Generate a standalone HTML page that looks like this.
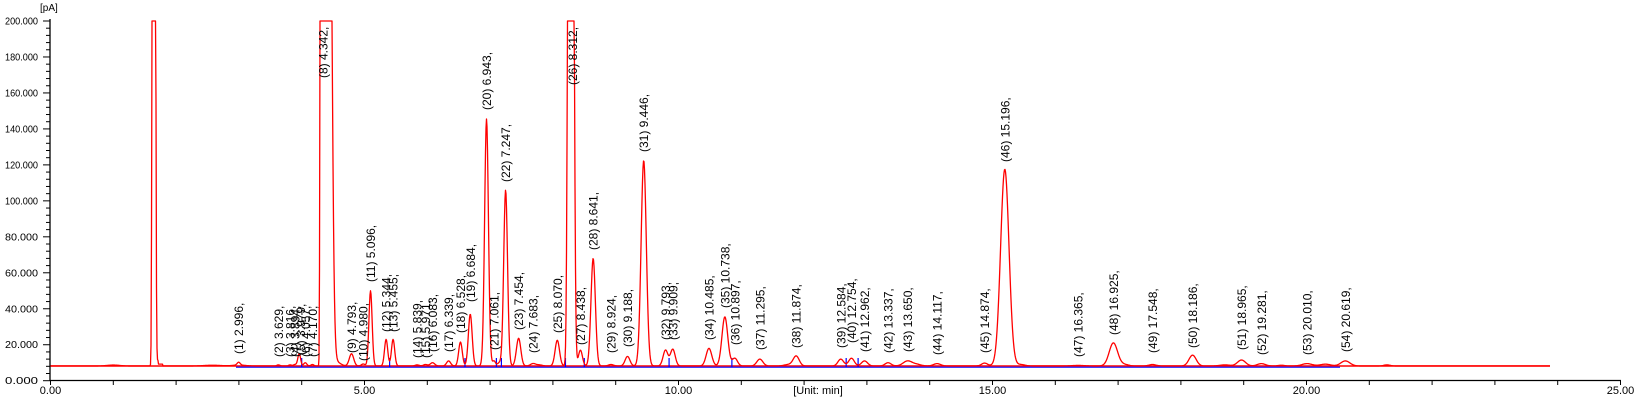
<!DOCTYPE html>
<html><head><meta charset="utf-8">
<style>
html,body{margin:0;padding:0;background:#fff;}
svg{display:block;font-family:"Liberation Sans",Arial,sans-serif;}
</style></head>
<body>
<svg id="s" width="1636" height="415" viewBox="0 0 1636 415" xmlns="http://www.w3.org/2000/svg">
<rect width="1636" height="415" fill="#fff"/>
<g id="axes"></g>
<line x1="50.5" y1="366" x2="1550" y2="366" stroke="#ff0000" stroke-width="1.4"/>
<line x1="236" y1="367.2" x2="1340" y2="367.2" stroke="#0000ff" stroke-width="1.2"/>
<g id="blue" stroke="#0000ff" stroke-width="1.2"></g>
<path id="trace" fill="none" stroke="#ff0000" stroke-width="1.3" stroke-linejoin="round"/>
<g id="labels" font-size="12" fill="#000"></g>
<text x="40" y="11" font-size="10" fill="#000">[pA]</text>
<text x="818" y="394" font-size="11" fill="#000" text-anchor="middle">[Unit: min]</text>
</svg>
<script>
var X0=50.5,PX=62.8,Y0=380.7,PY=1.7985,BASE=8.2;
function X(t){return X0+t*PX;}
function Y(v){return Y0-v*PY;}
var ns="http://www.w3.org/2000/svg";
function el(tag,attrs,parent,text){var e=document.createElementNS(ns,tag);for(var k in attrs)e.setAttribute(k,attrs[k]);if(text!=null)e.textContent=text;parent.appendChild(e);return e;}
var ax=document.getElementById('axes');
el('line',{x1:50,y1:19,x2:50,y2:381,stroke:'#000','stroke-width':1.3},ax);
el('line',{x1:50,y1:380.5,x2:1621,y2:380.5,stroke:'#000','stroke-width':1.3},ax);
for(var v=0;v<=200;v+=4){var y=Y(v);var maj=(v%20==0);
 el('line',{x1:maj?43:46,y1:y,x2:50,y2:y,stroke:'#000','stroke-width':1},ax);
 if(maj) el('text',{x:38,y:y+3.5,'font-size':10,'text-anchor':'end',fill:'#000','textLength':33,'lengthAdjust':'spacingAndGlyphs'},ax,v.toFixed(3));
}
for(var t=0;t<=25;t++){var x=X(t);
 el('line',{x1:x,y1:380,x2:x,y2:385,stroke:'#000','stroke-width':1},ax);
 if(t%5==0) el('text',{x:x,y:394,'font-size':11,'text-anchor':'middle',fill:'#000'},ax,t.toFixed(2));
}
var P=[
[1.0,8.7,6],[2.58,8.6,8],[3.0,8.7,6],
[2.996,9.8,1.5],[3.629,8.8,1.5],[3.816,8.8,1.5],[3.894,9,1.5],[3.96,15,1.4],[4.057,10,1.5],[4.170,9,1.5],
[4.55,10.5,4],[4.793,15,2.2],[4.980,9.3,1.8],[5.096,50,1.6],[5.344,23,1.6],[5.455,23,1.6],
[5.839,8.8,2],[5.971,9,2],[6.083,10,2.2],[6.339,11,2],[6.528,21.5,1.8],[6.684,37,1.9],
[6.943,145.5,1.9],[7.061,11,1.5],[7.15,10,2],[7.247,106,1.9],[7.454,23.6,2.2],[7.683,9.5,2.5],[7.78,8.8,3],
[8.070,22.5,2.2],[8.438,17,2],[8.641,68,2.2],[8.924,9,2.5],[9.188,13.5,2.4],[9.446,122.5,2.6],
[9.793,17,2.4],[9.909,17.5,2.4],[10.485,18,2.8],[10.738,35.5,2.9],[10.897,12.5,2.6],[11.295,12,3],
[11.874,13.7,3],[11.75,9,4],[12.584,12,2.8],[12.754,12.5,2.8],[12.962,11,3],[13.337,10,3],[13.650,11,4.5],[13.8,9,4],
[14.117,9.5,3.5],[14.874,9.8,3],[15.196,117.6,4.2],[15.45,9,4],[16.365,8.5,6],[16.925,21,4.2],[17.1,9,4],
[17.548,9,3.5],[18.186,14.2,3.6],[18.7,8.8,5],[18.965,11.5,4],[19.281,9.5,4],[19.6,8.6,3],[20.010,9.5,5],[20.3,9.2,5],
[20.619,11,4.5],[21.28,8.8,3]
];
function plateau(x,a,b,H,sl,sr){if(x<a)return H*Math.exp(-(a-x)*(a-x)/(2*sl*sl));if(x>b)return H*Math.exp(-(x-b)*(x-b)/(2*sr*sr));return H;}
var d='';
for(var x=50.5;x<=1550;x+=0.5){
 var v=BASE;
 for(var i=0;i<P.length;i++){var p=P[i],dx=x-X(p[0]);v+=(p[1]-BASE)*Math.exp(-dx*dx/(2*p[2]*p[2]));}
 v+=plateau(x,152.6,155,400,0.6,0.7);
 if(x>155.5&&x<158.5)v+=3; else if(x>=158.5&&x<163)v+=1;
 v+=plateau(x,320.5,329,400,0.5,2.5);
 v+=plateau(x,569,572.5,400,1.3,1.5);
 if(!(v<200))v=200;
 d+=(d?'L':'M')+x.toFixed(1)+' '+Y(v).toFixed(2);
}
document.getElementById('trace').setAttribute('d',d);
var bl=document.getElementById('blue');
[4.0,5.4,6.6,7.1,7.18,8.2,8.5,9.85,10.85,12.67,12.86].forEach(function(t){var x=X(t);el('line',{x1:x,y1:367,x2:x,y2:358},bl);});
var L=[
["(1) 2.996,",2.996,354],["(2) 3.629,",3.629,357],["(3) 3.816,",3.816,357],["(4) 3.894,",3.894,357],
["(5) 3.979,",3.979,355],["(6) 4.057,",4.057,357],["(7) 4.170,",4.170,357],["(8) 4.342,",4.342,78],
["(9) 4.793,",4.793,353],["(10) 4.980,",4.980,361],["(11) 5.096,",5.096,282],["(12) 5.344,",5.344,332],
["(13) 5.455,",5.455,332],["(14) 5.839,",5.839,358],["(15) 5.971,",5.971,358],["(16) 6.083,",6.083,352],
["(17) 6.339,",6.339,352],["(18) 6.528,",6.528,333],["(19) 6.684,",6.684,302],["(20) 6.943,",6.943,110],
["(21) 7.061,",7.061,350],["(22) 7.247,",7.247,182],["(23) 7.454,",7.454,330],["(24) 7.683,",7.683,353],
["(25) 8.070,",8.070,333],["(26) 8.312,",8.312,85],["(27) 8.438,",8.438,345],["(28) 8.641,",8.641,250],
["(29) 8.924,",8.924,353],["(30) 9.188,",9.188,347],["(31) 9.446,",9.446,152],["(32) 9.793,",9.793,340],
["(33) 9.909,",9.909,340],["(34) 10.485,",10.485,340],["(35) 10.738,",10.738,308],["(36) 10.897,",10.897,345],
["(37) 11.295,",11.295,350],["(38) 11.874,",11.874,348],["(39) 12.584,",12.584,348],["(40) 12.754,",12.754,343],
["(41) 12.962,",12.962,352],["(42) 13.337,",13.337,353],["(43) 13.650,",13.650,352],["(44) 14.117,",14.117,355],
["(45) 14.874,",14.874,353],["(46) 15.196,",15.196,162],["(47) 16.365,",16.365,357],["(48) 16.925,",16.925,335],
["(49) 17.548,",17.548,353],["(50) 18.186,",18.186,348],["(51) 18.965,",18.965,350],["(52) 19.281,",19.281,355],
["(53) 20.010,",20.010,355],["(54) 20.619,",20.619,352]
];
var lg=document.getElementById('labels');
L.forEach(function(l){var x=X(l[1])+4.5,y=l[2];
 el('text',{x:x,y:y,transform:'rotate(-90 '+x+' '+y+')'},lg,l[0]);});
</script>
</body></html>
